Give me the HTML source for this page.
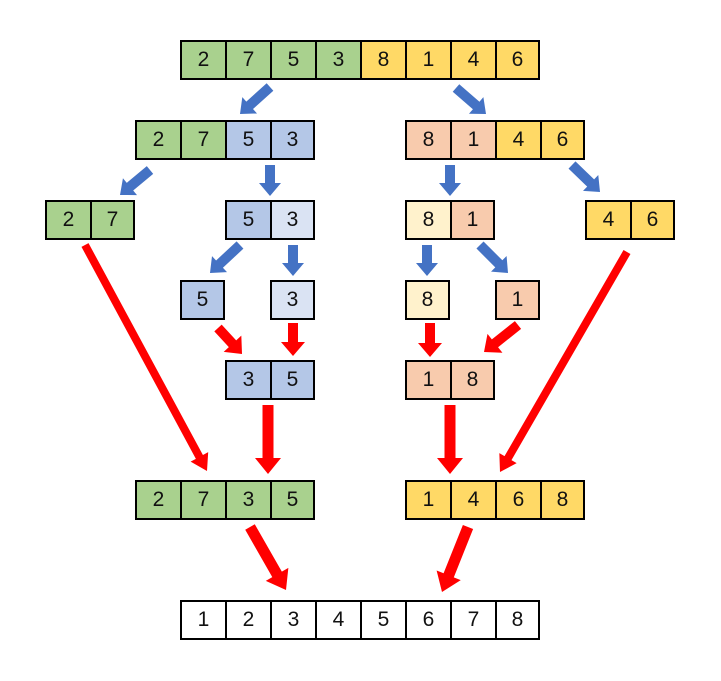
<!DOCTYPE html>
<html><head><meta charset="utf-8"><style>
body{margin:0;background:#fff;width:721px;height:681px;position:relative;overflow:hidden;font-family:"Liberation Sans","Noto Sans CJK JP",sans-serif}
.c{position:absolute;width:45px;height:40px;box-sizing:border-box;border:2px solid #000;display:flex;align-items:center;justify-content:center;font-size:21px;color:#111}
svg{position:absolute;left:0;top:0}
</style></head><body>
<div id="cells"></div>
<svg id="s" width="721" height="681"></svg>
<script>
var G='#A9D18E',Y='#FFD966',B='#B4C7E7',LB='#DAE3F3',P='#F8CBAD',LY='#FFF2CC',W='#fff';
var rows=[
[180,40,[['2',G],['7',G],['5',G],['3',G],['8',Y],['1',Y],['4',Y],['6',Y]]],
[135,120,[['2',G],['7',G],['5',B],['3',B]]],
[405,120,[['8',P],['1',P],['4',Y],['6',Y]]],
[45,200,[['2',G],['7',G]]],
[225,200,[['5',B],['3',LB]]],
[405,200,[['8',LY],['1',P]]],
[585,200,[['4',Y],['6',Y]]],
[180,280,[['5',B]]],[270,280,[['3',LB]]],[405,280,[['8',LY]]],[495,280,[['1',P]]],
[225,360,[['3',B],['5',B]]],[405,360,[['1',P],['8',P]]],
[135,480,[['2',G],['7',G],['3',G],['5',G]]],
[405,480,[['1',Y],['4',Y],['6',Y],['8',Y]]],
[180,600,[['1',W],['2',W],['3',W],['4',W],['5',W],['6',W],['7',W],['8',W]]]];
var h='';
rows.forEach(function(r){r[2].forEach(function(c,i){h+='<div class="c" style="left:'+(r[0]+i*45)+'px;top:'+r[1]+'px;width:'+(i<r[2].length-1?47:45)+'px;background:'+c[1]+'">'+c[0]+'</div>';});});
document.getElementById('cells').innerHTML=h;
var BL='#4472C4',R='#FF0000';
var ar=[
[270,87,240,114,BL,10,22,13],[456,88,486,114,BL,10,22,13],[150,170,120,195,BL,10,22,13],
[270,165,270,196,BL,10,22,13],[450,165,450,196,BL,10,22,13],[572,165,600,192,BL,10,22,13],
[240,245,210,273,BL,10,22,13],[293,245,293,276,BL,10,22,13],[427,245,427,276,BL,10,22,13],
[480,245,508,273,BL,10,22,13],
[218,328,242,354,R,10,24,14],[293,323,293,356,R,10,24,14],[430,323,430,357,R,10,24,14],
[518,325,484,352,R,10,24,14],[268,405,268,474,R,11,26,16],[450,405,450,474,R,11,26,16],
[85,245,207,471,R,8,20,16],[627,252,500,472,R,8,20,16],[250,527,286,590,R,11,26,18],[468,527,442,592,R,11,26,18]];
var s='';
ar.forEach(function(a){var dx=a[2]-a[0],dy=a[3]-a[1],L=Math.sqrt(dx*dx+dy*dy),ang=Math.atan2(dy,dx)*180/Math.PI;
var w=a[5]/2,hw=a[6]/2,hl=a[7],b=L-hl;
s+='<polygon transform="translate('+a[0]+','+a[1]+') rotate('+ang+')" fill="'+a[4]+'" points="0,'+(-w)+' '+b+','+(-w)+' '+b+','+(-hw)+' '+L+',0 '+b+','+hw+' '+b+','+w+' 0,'+w+'"/>';});
document.getElementById('s').innerHTML=s;
</script>
</body></html>
